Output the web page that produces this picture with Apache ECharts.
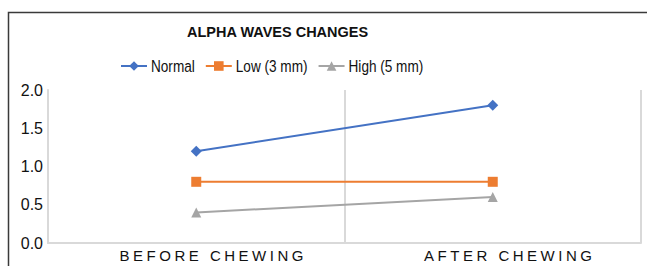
<!DOCTYPE html>
<html>
<head>
<meta charset="utf-8">
<style>
  html, body { margin: 0; padding: 0; background: #fff; }
  #chart { width: 647px; height: 266px; }
</style>
<script src="https://cdn.jsdelivr.net/npm/echarts@6/dist/echarts.min.js"></script>
</head>
<body>
<div id="chart"></div>
<script>
const titleText = 'ALPHA WAVES CHANGES';
const categories = ['BEFORE CHEWING', 'AFTER CHEWING'];
const seriesNames = ['Normal', 'Low (3 mm)', 'High (5 mm)'];
const normalValues = [1.2, 1.8];
const lowValues = [0.8, 0.8];
const highValues = [0.4, 0.6];
const yTicks = { min: 0, max: 2, interval: 0.5 };

const colors = ['#4472C4', '#ED7D31', '#A5A5A5'];
const symbols = ['diamond', 'rect', 'triangle'];
const symbolSizes = [11, 10, 10];
const valueSets = [normalValues, lowValues, highValues];

const chart = echarts.init(document.getElementById('chart'), null, { renderer: 'svg' });
const gridColor = '#d9d9d9';
const FONT = 'Liberation Sans, Arial, sans-serif';

chart.setOption({
  animation: false,
  backgroundColor: '#ffffff',
  title: {
    text: titleText,
    left: 187, top: 23.5, padding: 0,
    textStyle: { fontFamily: FONT, fontSize: 14.5, fontWeight: 'bold', color: '#111' }
  },
  legend: {
    data: seriesNames,
    left: 120, top: 59, padding: 0,
    itemWidth: 26, itemHeight: 12, itemGap: 10,
    textStyle: { fontFamily: FONT, fontSize: 13.6, color: '#111', padding: [0, 0, 0, -1] }
  },
  grid: { left: 48, top: 90, right: 6, bottom: 23, containLabel: false },
  xAxis: {
    type: 'category',
    data: categories,
    boundaryGap: true,
    axisLine: { show: true, lineStyle: { color: gridColor, width: 2 } },
    axisTick: { show: false },
    splitLine: { show: true, lineStyle: { color: gridColor, width: 2 } },
    axisLabel: { margin: 5, padding: [0, 0, 0, 34], fontFamily: FONT, fontSize: 15, color: '#111' }
  },
  yAxis: {
    type: 'value',
    min: yTicks.min, max: yTicks.max, interval: yTicks.interval,
    axisLine: { show: true, lineStyle: { color: gridColor, width: 2 } },
    axisTick: { show: false },
    splitLine: { show: false },
    axisLabel: {
      margin: 5, fontFamily: FONT, fontSize: 16, color: '#111',
      formatter: v => v.toFixed(1)
    }
  },
  series: seriesNames.map((name, i) => ({
    name: name,
    type: 'line',
    data: valueSets[i],
    symbol: symbols[i],
    symbolSize: symbolSizes[i],
    showAllSymbol: true,
    lineStyle: { color: colors[i], width: 2 },
    itemStyle: { color: colors[i] },
    z: 3 + i
  })),
  graphic: [{
    type: 'polyline',
    silent: true,
    shape: { points: [[8.5, 300], [8.5, 12.5], [700, 12.5]] },
    style: { stroke: '#3a3a3a', lineWidth: 1.5, fill: null },
    z: 100
  }]
});

// Typographic touches: letter-spaced axis categories, taller condensed legend/title text
function stretchText(t, newSize, sx) {
  const x = parseFloat(t.getAttribute('x') || '0');
  const y = parseFloat(t.getAttribute('y') || '0');
  const prev = t.getAttribute('transform') || '';
  t.style.fontSize = newSize + 'px';
  t.setAttribute('transform', (prev + ' translate(' + x + ',' + y + ') scale(' + sx + ',1) translate(' + (-x) + ',' + (-y) + ')').trim());
}
function styleTexts() {
  document.querySelectorAll('#chart svg text').forEach(t => {
    if (t.dataset.styled) return;
    const s = t.textContent;
    if (categories.indexOf(s) >= 0) {
      t.style.letterSpacing = '3.5px';
    } else if (seriesNames.indexOf(s) >= 0) {
      stretchText(t, 17, 0.8);
    } else if (s === titleText) {
      stretchText(t, 15.5, 0.935);
    }
    t.dataset.styled = '1';
  });
}
styleTexts();
chart.on('finished', styleTexts);
</script>
</body>
</html>
